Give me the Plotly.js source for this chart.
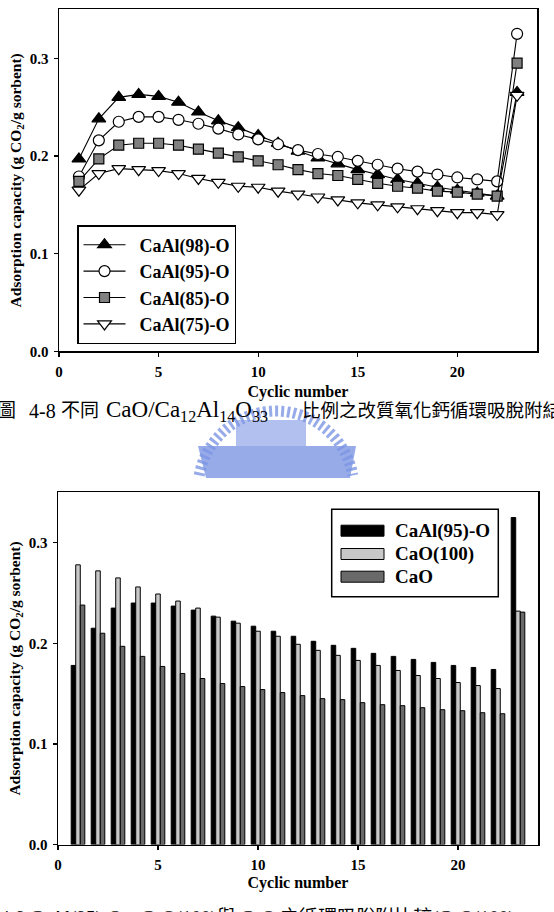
<!DOCTYPE html>
<html><head><meta charset="utf-8">
<script src="https://cdn.plot.ly/plotly-3.0.1.min.js"></script>
<style>html,body{margin:0;padding:0;background:#fff}#chart{width:554px;height:912px}</style>
</head><body><div id="chart"></div>
<script>
// ---- data ----
const cycles = [1,2,3,4,5,6,7,8,9,10,11,12,13,14,15,16,17,18,19,20,21,22,23];
const xTicks = [0,5,10,15,20];
const yTicks = [0,0.1,0.2,0.3];

// top chart (line + markers)
const caAl98 = [0.197,0.238,0.260,0.263,0.261,0.255,0.245,0.236,0.229,0.221,0.213,0.205,0.198,0.192,0.186,0.181,0.176,0.172,0.168,0.165,0.162,0.159,0.265];
const caAl95 = [0.179,0.216,0.235,0.240,0.240,0.237,0.233,0.228,0.222,0.217,0.212,0.206,0.202,0.199,0.195,0.191,0.187,0.184,0.181,0.178,0.176,0.174,0.325];
const caAl85 = [0.174,0.197,0.211,0.213,0.213,0.211,0.207,0.203,0.199,0.195,0.191,0.186,0.182,0.180,0.176,0.172,0.169,0.167,0.164,0.163,0.161,0.159,0.295];
const caAl75 = [0.165,0.182,0.187,0.186,0.185,0.182,0.177,0.173,0.169,0.168,0.164,0.161,0.158,0.155,0.152,0.150,0.148,0.146,0.144,0.142,0.142,0.140,0.262];

// bottom chart (grouped bars)
const barNames  = ['CaAl(95)-O', 'CaO(100)', 'CaO'];
const barCaAl95 = [0.178,0.215,0.235,0.240,0.240,0.237,0.233,0.227,0.222,0.217,0.212,0.207,0.202,0.198,0.195,0.190,0.187,0.184,0.181,0.178,0.176,0.174,0.325];
const barCaO100 = [0.278,0.272,0.265,0.256,0.249,0.242,0.235,0.226,0.220,0.212,0.207,0.199,0.193,0.188,0.183,0.178,0.173,0.168,0.165,0.161,0.158,0.155,0.232];
const barCaO    = [0.238,0.210,0.197,0.187,0.177,0.170,0.165,0.160,0.157,0.154,0.151,0.148,0.145,0.144,0.141,0.139,0.138,0.136,0.134,0.133,0.131,0.130,0.231];

const W = 554, H = 912;
const px = v => v / W;
const py = v => 1 - v / H;
const SERIF = 'Liberation Serif, Times New Roman, serif';
const CAP = 'Liberation Serif, Noto Sans CJK TC, serif';
const boldF = (s) => ({family: SERIF, size: s, color: '#000', weight: 'bold'});
const NB = '\u00a0\u00a0';

const lineTrace = (y, name, symbol, fill, size) => ({
  type: 'scatter', mode: 'lines+markers', x: cycles, y: y, name: NB + name,
  xaxis: 'x', yaxis: 'y', legend: 'legend',
  line: {color: '#000', width: 1.1},
  marker: {symbol: symbol, size: size, color: fill, line: {color: '#000', width: 1.2}}
});
const barColors = ['#000', '#c8c8c8', '#6a6a6a'];
const barTrace = (y, i) => ({
  type: 'bar', x: cycles, y: y, name: barNames[i], xaxis: 'x2', yaxis: 'y2', showlegend: false,
  marker: {color: barColors[i], line: {color: '#000', width: 1}}
});

const data = [
  lineTrace(caAl98, 'CaAl(98)-O', 'triangle-up', '#000', 12),
  lineTrace(caAl95, 'CaAl(95)-O', 'circle', '#fff', 11),
  lineTrace(caAl85, 'CaAl(85)-O', 'square', '#808080', 10),
  lineTrace(caAl75, 'CaAl(75)-O', 'triangle-down', '#fff', 12),
  barTrace(barCaAl95, 0),
  barTrace(barCaO100, 1),
  barTrace(barCaO, 2)
];

const axBase = {
  showline: true, mirror: true, linecolor: '#000', linewidth: 1.5,
  showgrid: false, zeroline: false, ticks: 'outside', ticklen: 4, tickwidth: 1.2, tickcolor: '#000',
  tickfont: boldF(15), fixedrange: true
};
const xAx = (domain, anchor, standoff, tstand) => Object.assign({}, axBase, {
  domain: domain, anchor: anchor, range: [0, 24], tickmode: 'array', tickvals: xTicks,
  ticklabelstandoff: standoff,
  title: {text: 'Cyclic number', font: boldF(16), standoff: tstand}
});
const yAx = (domain, anchor) => Object.assign({}, axBase, {
  domain: domain, anchor: anchor, range: [0, 0.35], tickmode: 'array', tickvals: yTicks, tickformat: '.1f',
  ticklabelstandoff: 2,
  title: {text: 'Adsorption capacity (g CO<sub>2</sub>/g sorbent)', font: boldF(15.5), standoff: 4}
});

// watermark-like logo (decorative)
const arc = [];
const cx = 276, cy = 489, r = 78;
for (let a = 170; a >= 10; a -= 2) {
  const t = a * Math.PI / 180;
  arc.push((arc.length ? 'L' : 'M') + px(cx + r * Math.cos(t)).toFixed(4) + ',' + py(cy - r * Math.sin(t)).toFixed(4));
}
const logoColor = 'rgba(125,150,228,0.8)';
const shapes = [
  {type: 'path', xref: 'paper', yref: 'paper', path: arc.join(' '), line: {color: logoColor, width: 11, dash: '3px,3px'}, layer: 'below'},
  {type: 'path', xref: 'paper', yref: 'paper',
   path: `M${px(198)},${py(446)} L${px(356)},${py(446)} L${px(350)},${py(478)} L${px(206)},${py(478)} Z`,
   fillcolor: logoColor, line: {width: 0}, layer: 'below'},
  {type: 'rect', xref: 'paper', yref: 'paper', x0: px(236), x1: px(306), y0: py(446), y1: py(420),
   fillcolor: 'rgba(125,150,228,0.6)', line: {width: 0}, layer: 'below'},
  // bottom chart legend (box + keys)
  {type: 'rect', xref: 'paper', yref: 'paper', x0: px(331.7), x1: px(498.3), y0: py(509.3), y1: py(596.7),
   fillcolor: '#fff', line: {color: '#000', width: 1.5}, layer: 'above'}
];
const legY = [530.7, 554, 576.7];
legY.forEach((yy, i) => {
  shapes.push({type: 'rect', xref: 'paper', yref: 'paper', x0: px(341), x1: px(384), y0: py(yy + 5.5), y1: py(yy - 5.5),
    fillcolor: barColors[i], line: {color: '#000', width: 1}, layer: 'above'});
});

const capY = 411;
const cap = (x, text, size) => ({xref: 'paper', yref: 'paper', x: px(x), y: py(capY), xanchor: 'left', yanchor: 'middle',
  showarrow: false, text: text, font: {family: CAP, size: size, color: '#000'}});
const annotations = [
  cap(-5, '圖', 19),
  cap(27, '4-8', 20),
  cap(59, '不同', 19),
  cap(104, 'CaO/Ca<sub>12</sub>Al<sub>14</sub>O<sub>33</sub>', 23),
  cap(300, '比例之改質氧化鈣循環吸脫附結果', 18.5),
  {xref: 'paper', yref: 'paper', x: px(-2), y: py(918), xanchor: 'left', yanchor: 'middle', showarrow: false,
   text: '4-9 CaAl(95)-O、CaO(100)與 CaO 之循環吸脫附比較(CaO(100)', font: {family: CAP, size: 19, color: '#000'}}
];
legY.forEach((yy, i) => {
  annotations.push({xref: 'paper', yref: 'paper', x: px(393), y: py(yy), xanchor: 'left', yanchor: 'middle',
    showarrow: false, text: barNames[i], font: boldF(19)});
});

const layout = {
  width: W, height: H, margin: {l: 0, r: 0, t: 0, b: 0},
  paper_bgcolor: '#fff', plot_bgcolor: '#fff',
  font: {family: SERIF, color: '#000'},
  xaxis: xAx([px(59), px(537)], 'y', 2, 7),
  yaxis: yAx([py(351.4), py(9.4)], 'x'),
  xaxis2: xAx([px(58), px(538)], 'y2', 2, 5),
  yaxis2: yAx([py(844.5), py(492.4)], 'x2'),
  barmode: 'group', bargap: 0.32, bargroupgap: 0,
  legend: {x: px(77), y: py(225), xanchor: 'left', yanchor: 'top', bgcolor: '#fff', bordercolor: '#000',
    borderwidth: 1.5, font: boldF(18), itemwidth: 42, tracegroupgap: 0},
  shapes: shapes, annotations: annotations, showlegend: true
};

Plotly.newPlot('chart', data, layout, {staticPlot: true, displayModeBar: false});
</script>
</body></html>
